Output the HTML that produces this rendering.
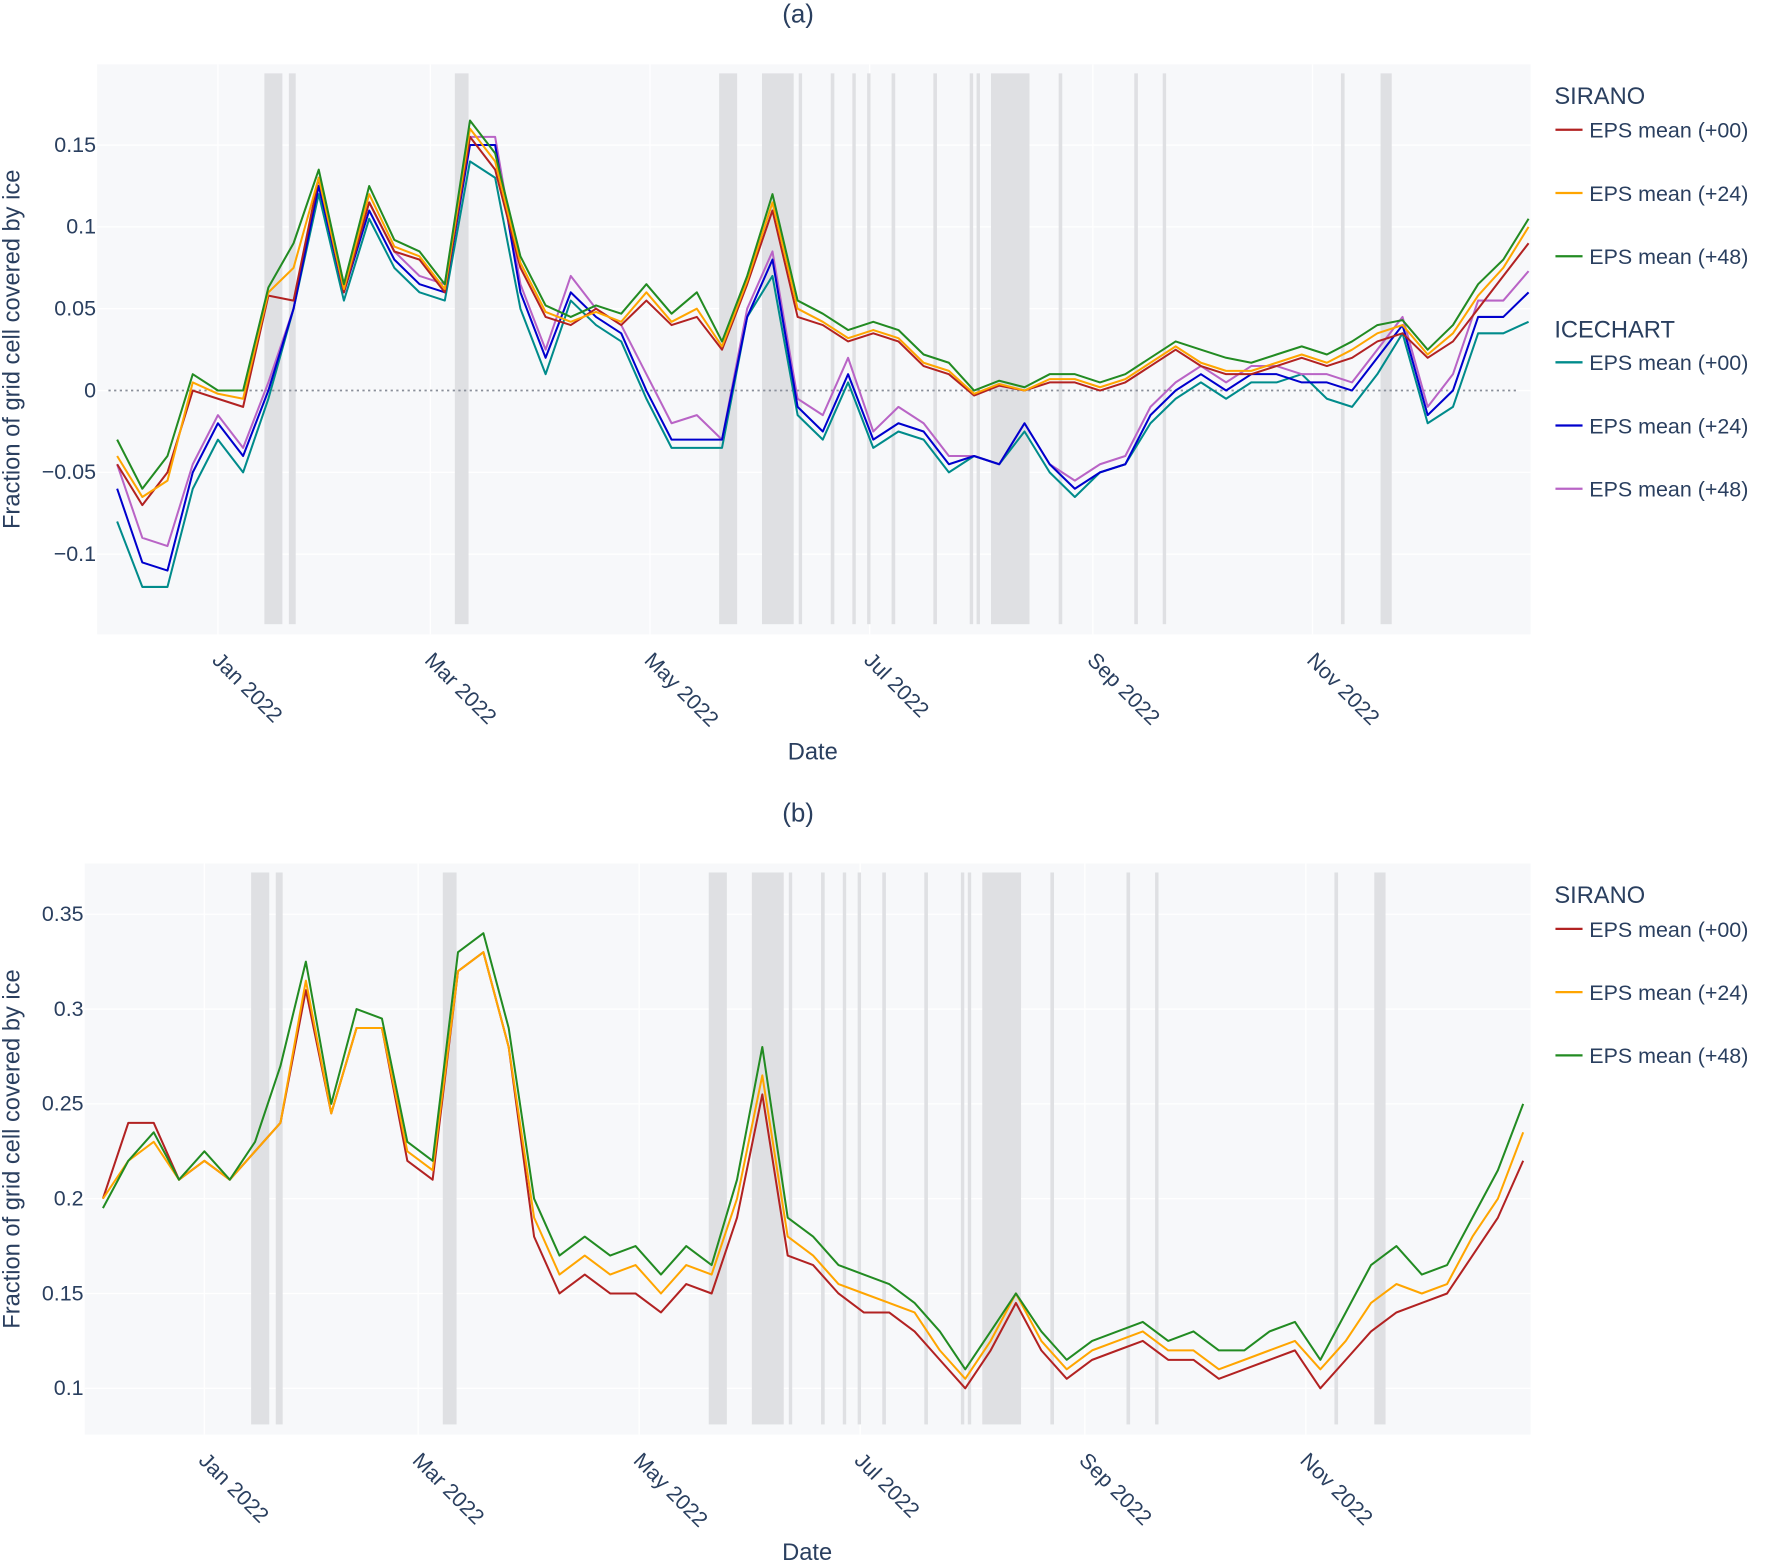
<!DOCTYPE html>
<html><head><meta charset="utf-8"><style>
html,body{margin:0;padding:0;background:#fff;}
svg{display:block;font-family:"Liberation Sans",sans-serif;}
</style></head><body>
<svg id="chart" width="1770" height="1561" viewBox="0 0 1568 1383" xmlns="http://www.w3.org/2000/svg">
</svg>
<script>
const days = [-28,-21,-14,-7,0,7,14,21,28,35,42,49,56,63,70,77,84,91,98,105,112,119,126,133,140,147,154,161,168,175,182,189,196,203,210,217,224,231,238,245,252,259,266,273,280,287,294,301,308,315,322,329,336,343,350,357,364];
const monthTicks = [0,59,120,181,243,304];
const monthLabels = ["Jan 2022","Mar 2022","May 2022","Jul 2022","Sep 2022","Nov 2022"];
const gapStarts = [12.9,19.7,65.8,139.2,151.1,161.3,170.2,176.2,180.3,187.1,198.7,208.8,210.7,214.7,233.5,254.5,262.4,311.9,322.9];
const gapEnds = [17.9,21.6,69.6,144.2,159.9,162.1,171.2,177.1,181.2,188.1,199.7,209.7,211.6,225.4,234.5,255.5,263.3,312.9,326];
const yTicksA = [-0.1,-0.05,0,0.05,0.1,0.15];
const yTickLabelsA = ["−0.1","−0.05","0","0.05","0.1","0.15"];
const yTicksB = [0.1,0.15,0.2,0.25,0.3,0.35];
const yTickLabelsB = ["0.1","0.15","0.2","0.25","0.3","0.35"];

const sirA00 = [-0.045,-0.07,-0.05,0,-0.005,-0.01,0.058,0.055,0.13,0.06,0.115,0.085,0.08,0.06,0.155,0.135,0.075,0.045,0.04,0.05,0.04,0.055,0.04,0.045,0.025,0.065,0.11,0.045,0.04,0.03,0.035,0.03,0.015,0.01,-0.003,0.003,0,0.005,0.005,0,0.005,0.015,0.025,0.015,0.01,0.01,0.015,0.02,0.015,0.02,0.03,0.035,0.02,0.03,0.05,0.07,0.09];
const sirA24 = [-0.04,-0.065,-0.055,0.005,-0.002,-0.005,0.06,0.075,0.13,0.062,0.12,0.088,0.082,0.062,0.16,0.14,0.078,0.048,0.042,0.048,0.042,0.06,0.042,0.05,0.027,0.067,0.115,0.05,0.042,0.032,0.037,0.032,0.017,0.012,-0.002,0.004,0,0.007,0.007,0.002,0.007,0.017,0.027,0.017,0.012,0.012,0.017,0.022,0.017,0.025,0.035,0.04,0.022,0.035,0.058,0.075,0.1];
const sirA48 = [-0.03,-0.06,-0.04,0.01,0,0,0.063,0.09,0.135,0.065,0.125,0.092,0.085,0.065,0.165,0.145,0.082,0.052,0.045,0.052,0.047,0.065,0.047,0.06,0.03,0.07,0.12,0.055,0.047,0.037,0.042,0.037,0.022,0.017,0,0.006,0.002,0.01,0.01,0.005,0.01,0.02,0.03,0.025,0.02,0.017,0.022,0.027,0.022,0.03,0.04,0.043,0.025,0.04,0.065,0.08,0.105];
const iceA00 = [-0.08,-0.12,-0.12,-0.06,-0.03,-0.05,-0.005,0.05,0.12,0.055,0.105,0.075,0.06,0.055,0.14,0.13,0.05,0.01,0.055,0.04,0.03,-0.005,-0.035,-0.035,-0.035,0.045,0.07,-0.015,-0.03,0.005,-0.035,-0.025,-0.03,-0.05,-0.04,-0.045,-0.025,-0.05,-0.065,-0.05,-0.045,-0.02,-0.005,0.005,-0.005,0.005,0.005,0.01,-0.005,-0.01,0.01,0.035,-0.02,-0.01,0.035,0.035,0.042];
const iceA24 = [-0.06,-0.105,-0.11,-0.05,-0.02,-0.04,0,0.05,0.125,0.06,0.11,0.08,0.065,0.06,0.15,0.15,0.06,0.02,0.06,0.045,0.035,0,-0.03,-0.03,-0.03,0.045,0.08,-0.01,-0.025,0.01,-0.03,-0.02,-0.025,-0.045,-0.04,-0.045,-0.02,-0.045,-0.06,-0.05,-0.045,-0.015,0,0.01,0,0.01,0.01,0.005,0.005,0,0.02,0.04,-0.015,0,0.045,0.045,0.06];
const iceA48 = [-0.045,-0.09,-0.095,-0.045,-0.015,-0.035,0.005,0.05,0.13,0.065,0.115,0.085,0.07,0.065,0.155,0.155,0.065,0.025,0.07,0.05,0.04,0.01,-0.02,-0.015,-0.03,0.05,0.085,-0.005,-0.015,0.02,-0.025,-0.01,-0.02,-0.04,-0.04,-0.045,-0.02,-0.045,-0.055,-0.045,-0.04,-0.01,0.005,0.015,0.005,0.015,0.015,0.01,0.01,0.005,0.025,0.045,-0.01,0.01,0.055,0.055,0.073];

const sirB00 = [0.2,0.24,0.24,0.21,0.22,0.21,0.225,0.24,0.31,0.245,0.29,0.29,0.22,0.21,0.32,0.33,0.28,0.18,0.15,0.16,0.15,0.15,0.14,0.155,0.15,0.19,0.255,0.17,0.165,0.15,0.14,0.14,0.13,0.115,0.1,0.12,0.145,0.12,0.105,0.115,0.12,0.125,0.115,0.115,0.105,0.11,0.115,0.12,0.1,0.115,0.13,0.14,0.145,0.15,0.17,0.19,0.22];
const sirB24 = [0.2,0.22,0.23,0.21,0.22,0.21,0.225,0.24,0.315,0.245,0.29,0.29,0.225,0.215,0.32,0.33,0.28,0.19,0.16,0.17,0.16,0.165,0.15,0.165,0.16,0.2,0.265,0.18,0.17,0.155,0.15,0.145,0.14,0.12,0.105,0.125,0.15,0.125,0.11,0.12,0.125,0.13,0.12,0.12,0.11,0.115,0.12,0.125,0.11,0.125,0.145,0.155,0.15,0.155,0.18,0.2,0.235];
const sirB48 = [0.195,0.22,0.235,0.21,0.225,0.21,0.23,0.27,0.325,0.25,0.3,0.295,0.23,0.22,0.33,0.34,0.29,0.2,0.17,0.18,0.17,0.175,0.16,0.175,0.165,0.21,0.28,0.19,0.18,0.165,0.16,0.155,0.145,0.13,0.11,0.13,0.15,0.13,0.115,0.125,0.13,0.135,0.125,0.13,0.12,0.12,0.13,0.135,0.115,0.14,0.165,0.175,0.16,0.165,0.19,0.215,0.25];

const NS="http://www.w3.org/2000/svg";
const svg=document.getElementById('chart');
function mk(tag,attrs,parent){const e=document.createElementNS(NS,tag);for(const k in attrs)e.setAttribute(k,attrs[k]);(parent||svg).appendChild(e);return e;}
const txtColor="#2a3f5f";

function panel(cfg){
  const g=mk('g',{});
  
  
  const X=d=>cfg.x0+cfg.pxd*d;
  const Y=v=>cfg.y0-(v-cfg.v0)*cfg.pxv;
  const bg=mk('rect',{x:cfg.left,y:cfg.top,width:cfg.right-cfg.left,height:cfg.bottom-cfg.top,fill:'#f7f8fa'},g);
  
  
  monthTicks.forEach((d,i)=>{
    const gl=mk('line',{x1:X(d),x2:X(d),y1:cfg.top,y2:cfg.bottom,stroke:'#fff','stroke-width':1.2},g);
    
    
    const t=mk('text',{x:0,y:0,'font-size':19,fill:txtColor,transform:`translate(${X(d)-6},${cfg.bottom+24}) rotate(45)`},g);
    t.textContent=monthLabels[i];
    
    
  });
  cfg.yt.forEach((v,i)=>{
    const gl=mk('line',{x1:cfg.left,x2:cfg.right,y1:Y(v),y2:Y(v),stroke:'#fff','stroke-width':1.2},g);
    
    
    const t=mk('text',{x:cfg.left-1,y:Y(v)+6,'font-size':19,fill:txtColor,'text-anchor':'end'},g);
    t.textContent=cfg.ytl[i];
    
    
  });
  gapStarts.forEach((s,i)=>{
    const r=mk('rect',{x:X(s),y:cfg.top+8,width:Math.max(3,X(gapEnds[i])-X(s)),height:cfg.bottom-cfg.top-17,fill:'#dcdde0',opacity:0.9},g);
    
    
  });
  if(cfg.zero){
    const z=mk('line',{x1:cfg.left+10,x2:cfg.right-10,y1:Y(0),y2:Y(0),stroke:'#8a8f9a','stroke-width':1.5,'stroke-dasharray':'2,3'},g);
    
    
  }
  cfg.series.forEach(s=>{
    const p=mk('polyline',{points:days.map((d,i)=>X(d).toFixed(1)+','+Y(s.v[i]).toFixed(1)).join(' '),fill:'none',stroke:s.c,'stroke-width':1.8,'stroke-linejoin':'round'},g);
    
    
  });
  const tt=mk('text',{x:707,y:cfg.titleY,'font-size':23,fill:txtColor,'text-anchor':'middle'},g);
  tt.textContent=cfg.title;
  
  
  const xt=mk('text',{x:cfg.xtX,y:cfg.xtY,'font-size':21,fill:txtColor,'text-anchor':'middle'},g);
  xt.textContent='Date';
  
  
  const yy=(cfg.top+cfg.bottom)/2;
  const yt=mk('text',{x:0,y:0,'font-size':21,fill:txtColor,'text-anchor':'middle',transform:`translate(17,${yy}) rotate(-90)`},g);
  yt.textContent='Fraction of grid cell covered by ice';
  
  
  cfg.legend.forEach(L=>{
    if(L.head){
      const h=mk('text',{x:1377,y:L.y+7,'font-size':21,fill:txtColor},g);
      h.textContent=L.head;
      
      
    } else {
      const e=mk('g',{},g);
      
      
      mk('line',{x1:1378,x2:1402,y1:L.y,y2:L.y,stroke:L.c,'stroke-width':2},e);
      const t=mk('text',{x:1408,y:L.y+7,'font-size':19,fill:txtColor},e);
      t.textContent=L.t;
    }
  });
}
const cS={r:'#b22222',o:'#ffa500',g:'#228b22',t:'#008b8b',b:'#0000cd',p:'#b964c6'};
panel({name:'panel-a',left:86,right:1356,top:57,bottom:562,x0:193,pxd:3.19,y0:346,v0:0,pxv:1450,
  yt:yTicksA,ytl:yTickLabelsA,zero:true,title:'(a)',titleY:20,xtX:720,xtY:673,
  series:[{n:'icechart-eps-00',v:iceA00,c:cS.t},{n:'icechart-eps-48',v:iceA48,c:cS.p},{n:'icechart-eps-24',v:iceA24,c:cS.b},
          {n:'sirano-eps-00',v:sirA00,c:cS.r},{n:'sirano-eps-24',v:sirA24,c:cS.o},{n:'sirano-eps-48',v:sirA48,c:cS.g}],
  legend:[{head:'SIRANO',y:85},{t:'EPS mean (+00)',y:115,c:cS.r},{t:'EPS mean (+24)',y:171,c:cS.o},{t:'EPS mean (+48)',y:227,c:cS.g},
          {head:'ICECHART',y:292},{t:'EPS mean (+00)',y:321,c:cS.t},{t:'EPS mean (+24)',y:377,c:cS.b},{t:'EPS mean (+48)',y:433,c:cS.p}]});
panel({name:'panel-b',left:75,right:1356,top:765,bottom:1271,x0:181,pxd:3.21,y0:1230,v0:0.1,pxv:1680,
  yt:yTicksB,ytl:yTickLabelsB,zero:false,title:'(b)',titleY:728,xtX:715,xtY:1382,
  series:[{n:'sirano-eps-00',v:sirB00,c:cS.r},{n:'sirano-eps-24',v:sirB24,c:cS.o},{n:'sirano-eps-48',v:sirB48,c:cS.g}],
  legend:[{head:'SIRANO',y:793},{t:'EPS mean (+00)',y:823,c:cS.r},{t:'EPS mean (+24)',y:879,c:cS.o},{t:'EPS mean (+48)',y:935,c:cS.g}]});
</script>
</body></html>
